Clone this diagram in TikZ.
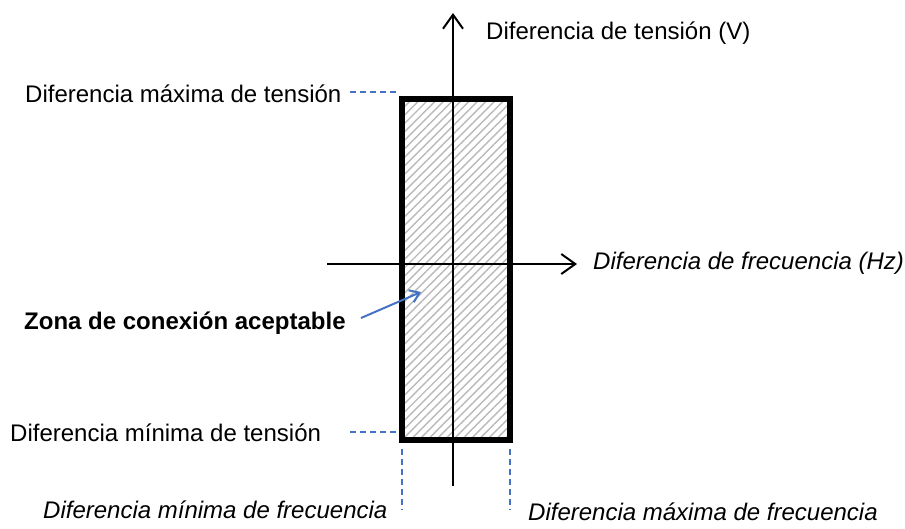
\documentclass[tikz,border=0pt]{standalone}
\usepackage{fontspec}
\setmainfont{Liberation Sans}
\usetikzlibrary{arrows.meta,patterns.meta}
\definecolor{offblue}{HTML}{4472C4}
\begin{document}
\begin{tikzpicture}[x=1pt,y=-1pt,
  lbl/.style={inner sep=0pt,anchor=west,font=\fontsize{24}{28}\selectfont},
  axisline/.style={line width=2pt,-{Straight Barb[length=14pt,width=20pt,line width=2pt]}},
  guide/.style={offblue,line width=2pt,dash pattern=on 6pt off 4pt},
  zone/.style={rectangle,inner sep=0pt,outer sep=0pt,minimum width=108pt,minimum height=341pt,
    line width=5.5pt,pattern={Lines[angle=45,distance=6pt,line width=1.4pt]},pattern color=gray!55}]
\useasboundingbox (0,0) rectangle (905,528);
% zone rectangle (fill)
\node[zone] (zone) at (456,269.5) {};
% axes
\coordinate (vbot) at (453,486);
\coordinate (vtop) at (453,13);
\coordinate (hleft) at (327,264);
\coordinate (hright) at (577,264);
\draw[axisline] (vbot) -- (vtop);
\draw[axisline] (hleft) -- (hright);
% border on top
\draw[line width=5.5pt] (zone.south west) rectangle (zone.north east);
% labels
\node[lbl] (vlab) at (486,33) {Diferencia de tensión (V)};
\node[lbl,font=\fontsize{24}{28}\selectfont\itshape] (hlab) at (593,263) {Diferencia de frecuencia (Hz)};
\node[lbl] (vmax) at (25,94) {Diferencia máxima de tensión};
\node[lbl] (vmin) at (10,433) {Diferencia mínima de tensión};
\node[lbl,font=\fontsize{24}{28}\selectfont\bfseries] (zlab) at (24,323) {Zona de conexión aceptable};
\node[lbl,font=\fontsize{24}{28}\selectfont\itshape] (fmin) at (43,510) {Diferencia mínima de frecuencia};
\node[lbl,font=\fontsize{24}{28}\selectfont\itshape] (fmax) at (528,512) {Diferencia máxima de frecuencia};
% guide lines
\coordinate (gmaxa) at (350,92);
\coordinate (gmaxb) at (399,92);
\coordinate (gmina) at (350,432);
\coordinate (gminb) at (399,432);
\coordinate (gfmina) at (402,449);
\coordinate (gfminb) at (402,510);
\coordinate (gfmaxa) at (510,449);
\coordinate (gfmaxb) at (510,510);
\draw[guide] (gmaxa) -- (gmaxb);
\draw[guide] (gmina) -- (gminb);
\draw[guide] (gfmina) -- (gfminb);
\draw[guide] (gfmaxa) -- (gfmaxb);
% pointer arrow
\coordinate (ptail) at (361,318);
\coordinate (phead) at (421,292);
\draw[offblue,line width=2pt,-{Straight Barb[length=9pt,width=13pt,line width=2pt]}] (ptail) -- (phead);
\end{tikzpicture}
\end{document}
